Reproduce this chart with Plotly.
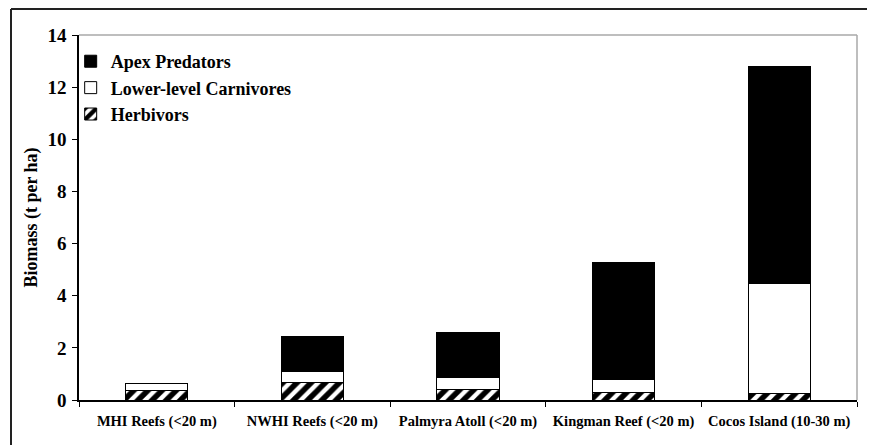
import plotly.graph_objects as go

categories = ["MHI Reefs (<20 m)", "NWHI Reefs (<20 m)", "Palmyra Atoll (<20 m)",
              "Kingman Reef (<20 m)", "Cocos Island (10-30 m)"]
herbivors = [0.35, 0.66, 0.42, 0.29, 0.26]
lower_carnivores = [0.30, 0.43, 0.44, 0.48, 4.22]
apex_predators = [0.00, 1.36, 1.72, 4.50, 8.33]
y_ticks = [0, 2, 4, 6, 8, 10, 12, 14]

FONT = "Liberation Serif, Times New Roman, serif"

fig = go.Figure()
fig.add_trace(go.Bar(
    x=categories, y=herbivors, name="<b>Herbivors</b>", legendgroup="h", legendrank=3,
    marker=dict(color="white", line=dict(color="black", width=1),
                pattern=dict(shape="/", fgcolor="black", bgcolor="white", size=10,
                             solidity=0.55, fgopacity=1)),
))
fig.add_trace(go.Bar(
    x=categories, y=lower_carnivores, name="<b>Lower-level Carnivores</b>", legendgroup="l",
    legendrank=2,
    marker=dict(color="white", line=dict(color="black", width=1)),
))
fig.add_trace(go.Bar(
    x=categories, y=apex_predators, name="<b>Apex Predators</b>", legendgroup="a", legendrank=1,
    marker=dict(color="black", line=dict(color="black", width=1)),
))

fig.update_layout(
    width=867, height=437,
    margin=dict(l=71, r=18, t=27, b=45, autoexpand=False),
    barmode="stack", bargap=0.6,
    paper_bgcolor="white", plot_bgcolor="white",
    font=dict(family=FONT, color="black"),
    showlegend=True,
    legend=dict(x=-0.0107, y=0.978, xanchor="left", yanchor="top",
                traceorder="grouped", tracegroupgap=0,
                font=dict(family=FONT, size=18, color="black"),
                bgcolor="rgba(0,0,0,0)", itemwidth=30),
    xaxis=dict(
        showline=True, linecolor="black", linewidth=1.5,
        ticks="outside", ticklen=5, tickcolor="black", tickson="boundaries",
        tickfont=dict(family=FONT, size=14.5, color="black", weight="bold"),
        ticklabelstandoff=7, automargin=False,
        showgrid=False, zeroline=False,
    ),
    yaxis=dict(
        range=[0, 14], tickvals=y_ticks,
        showline=True, linecolor="black", linewidth=1.5,
        ticks="outside", ticklen=5, tickcolor="black",
        tickfont=dict(family=FONT, size=19, color="black", weight="bold"),
        ticklabelstandoff=2, automargin=False,
        showgrid=False, zeroline=False,
        title=dict(text="<b>Biomass (t per ha)</b>", font=dict(family=FONT, size=18, color="black"),
                   standoff=5),
    ),
    shapes=[
        dict(type="line", xref="paper", yref="paper", x0=0, x1=1, y0=1, y1=1,
             line=dict(color="#a8a8a8", width=1.5)),
        dict(type="line", xref="paper", yref="paper", x0=1, x1=1, y0=0, y1=1,
             line=dict(color="#a8a8a8", width=1.5)),
        dict(type="line", xref="paper", yref="paper", x0=-0.0874, x1=1.03, y0=1.0712, y1=1.0712,
             line=dict(color="#222222", width=2)),
        dict(type="line", xref="paper", yref="paper", x0=-0.0874, x1=-0.0874, y0=-0.2, y1=1.0712,
             line=dict(color="#222222", width=2)),
    ],
)

fig.write_html("out.html")
